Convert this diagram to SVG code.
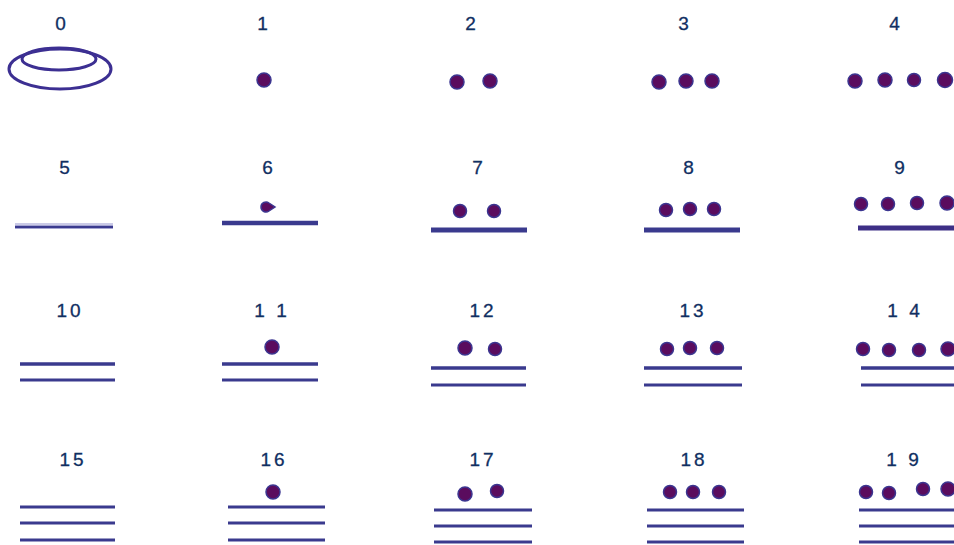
<svg xmlns="http://www.w3.org/2000/svg" width="954" height="545" viewBox="0 0 954 545">
<style>
.lbl{font-family:"Liberation Sans",Arial,sans-serif;font-size:19px;fill:#102f62;text-anchor:middle;letter-spacing:3px;stroke:#102f62;stroke-width:0.3}
.dot{fill:#5a0c5e;stroke:#3b3590;stroke-width:1.5}
.bar{stroke:#3a3a8e;stroke-width:3.5;stroke-linecap:butt}
.halo{stroke:#a8a8d8;stroke-width:6;opacity:.6}
.shell{fill:none;stroke:#3c2f92;stroke-width:3}
</style>
<rect width="954" height="545" fill="#ffffff"/>
<g id="n0"><text class="lbl" x="62" y="30">0</text>
<ellipse class="shell" cx="60" cy="69" rx="51" ry="20"/>
<ellipse class="shell" cx="59" cy="59" rx="37" ry="11"/></g>
<g id="n1"><text class="lbl" x="264" y="30">1</text><circle class="dot" cx="264" cy="80" r="7"/></g>
<g id="n2"><text class="lbl" x="472" y="30">2</text><circle class="dot" cx="457" cy="82" r="7"/><circle class="dot" cx="490" cy="81" r="7"/></g>
<g id="n3"><text class="lbl" x="685" y="30">3</text><circle class="dot" cx="659" cy="82" r="7"/><circle class="dot" cx="686" cy="81" r="7"/><circle class="dot" cx="712" cy="81" r="7"/></g>
<g id="n4"><text class="lbl" x="896" y="30">4</text><circle class="dot" cx="855" cy="81" r="7"/><circle class="dot" cx="885" cy="80" r="7"/><circle class="dot" cx="914" cy="80" r="6.5"/><circle class="dot" cx="945" cy="80" r="7.5"/></g>

<g id="n5"><text class="lbl" x="66" y="174">5</text><line class="halo" x1="15" y1="226" x2="113" y2="226"/><line class="bar" x1="15" y1="227" x2="113" y2="227" style="stroke-width:2.5"/></g>
<g id="n6"><text class="lbl" x="269" y="174">6</text><path class="dot" d="M261 207 a5 5 0 0 1 8 -4 l6 4 l-6 4 a5 5 0 0 1 -8 -4z"/><line class="bar" x1="222" y1="223" x2="318" y2="223" style="stroke-width:4.5"/></g>
<g id="n7"><text class="lbl" x="479" y="174">7</text><circle class="dot" cx="460" cy="211" r="6.5"/><circle class="dot" cx="494" cy="211" r="6.5"/><line class="bar" x1="431" y1="230" x2="527" y2="230" style="stroke-width:5"/></g>
<g id="n8"><text class="lbl" x="690" y="174">8</text><circle class="dot" cx="666" cy="210" r="6.5"/><circle class="dot" cx="690" cy="209" r="6.5"/><circle class="dot" cx="714" cy="209" r="6.5"/><line class="bar" x1="644" y1="230" x2="740" y2="230" style="stroke-width:5"/></g>
<g id="n9"><text class="lbl" x="901" y="174">9</text><circle class="dot" cx="861" cy="204" r="6.5"/><circle class="dot" cx="888" cy="204" r="6.5"/><circle class="dot" cx="917" cy="203" r="6.5"/><circle class="dot" cx="947" cy="203" r="7"/><line class="bar" x1="858" y1="228" x2="954" y2="228" style="stroke-width:5;stroke:#3d2f86"/></g>

<g id="n10"><text class="lbl" x="70" y="317">10</text><line class="bar" x1="20" y1="364" x2="115" y2="364"/><line class="bar" x1="20" y1="380" x2="115" y2="380" style="stroke-width:3"/></g>
<g id="n11"><text class="lbl" x="272" y="317">1 1</text><circle class="dot" cx="272" cy="347" r="7"/><line class="bar" x1="222" y1="364" x2="318" y2="364"/><line class="bar" x1="222" y1="380" x2="318" y2="380" style="stroke-width:3"/></g>
<g id="n12"><text class="lbl" x="483" y="317">12</text><circle class="dot" cx="465" cy="348" r="7"/><circle class="dot" cx="495" cy="349" r="6.5"/><line class="bar" x1="431" y1="368" x2="526" y2="368"/><line class="bar" x1="431" y1="385" x2="526" y2="385" style="stroke-width:3"/></g>
<g id="n13"><text class="lbl" x="693" y="317">13</text><circle class="dot" cx="667" cy="349" r="6.5"/><circle class="dot" cx="690" cy="348" r="6.5"/><circle class="dot" cx="717" cy="348" r="6.5"/><line class="bar" x1="644" y1="368" x2="742" y2="368"/><line class="bar" x1="644" y1="385" x2="742" y2="385" style="stroke-width:3"/></g>
<g id="n14"><text class="lbl" x="905" y="317">1 4</text><circle class="dot" cx="863" cy="349" r="6.5"/><circle class="dot" cx="889" cy="350" r="6.5"/><circle class="dot" cx="919" cy="350" r="6.5"/><circle class="dot" cx="948" cy="349" r="7"/><line class="bar" x1="861" y1="368" x2="954" y2="368"/><line class="bar" x1="861" y1="385" x2="954" y2="385" style="stroke-width:3"/></g>

<g id="n15"><text class="lbl" x="73" y="466">15</text><line class="bar" x1="20" y1="507" x2="115" y2="507" style="stroke-width:3"/><line class="bar" x1="20" y1="523" x2="115" y2="523" style="stroke-width:3"/><line class="bar" x1="20" y1="540" x2="115" y2="540" style="stroke-width:3"/></g>
<g id="n16"><text class="lbl" x="274" y="466">16</text><circle class="dot" cx="273" cy="492" r="7"/><line class="bar" x1="228" y1="507" x2="325" y2="507" style="stroke-width:3"/><line class="bar" x1="228" y1="523" x2="325" y2="523" style="stroke-width:3"/><line class="bar" x1="228" y1="540" x2="325" y2="540" style="stroke-width:3"/></g>
<g id="n17"><text class="lbl" x="483" y="466">17</text><circle class="dot" cx="465" cy="494" r="7"/><circle class="dot" cx="497" cy="491" r="6.5"/><line class="bar" x1="434" y1="510" x2="532" y2="510" style="stroke-width:3"/><line class="bar" x1="434" y1="526" x2="532" y2="526" style="stroke-width:3"/><line class="bar" x1="434" y1="542" x2="532" y2="542" style="stroke-width:3"/></g>
<g id="n18"><text class="lbl" x="694" y="466">18</text><circle class="dot" cx="670" cy="492" r="6.5"/><circle class="dot" cx="693" cy="492" r="6.5"/><circle class="dot" cx="719" cy="492" r="6.5"/><line class="bar" x1="647" y1="510" x2="744" y2="510" style="stroke-width:3"/><line class="bar" x1="647" y1="526" x2="744" y2="526" style="stroke-width:3"/><line class="bar" x1="647" y1="542" x2="744" y2="542" style="stroke-width:3"/></g>
<g id="n19"><text class="lbl" x="904" y="466">1 9</text><circle class="dot" cx="866" cy="492" r="6.5"/><circle class="dot" cx="889" cy="493" r="6.5"/><circle class="dot" cx="923" cy="489" r="6.5"/><circle class="dot" cx="948" cy="489" r="7"/><line class="bar" x1="859" y1="510" x2="954" y2="510" style="stroke-width:3"/><line class="bar" x1="859" y1="526" x2="954" y2="526" style="stroke-width:3"/><line class="bar" x1="859" y1="542" x2="954" y2="542" style="stroke-width:3"/></g>
</svg>
